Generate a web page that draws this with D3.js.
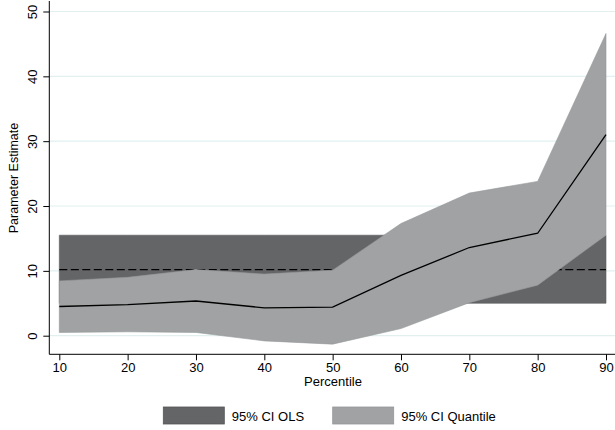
<!DOCTYPE html>
<html><head><meta charset="utf-8">
<script src="https://cdn.jsdelivr.net/npm/d3@7"></script>
<style>body{margin:0;background:#fff}svg{display:block;font-family:"Liberation Sans",Arial,sans-serif}</style>
</head><body><svg id="c" width="615" height="430"></svg>
<script>
const percentiles = [10,20,30,40,50,60,70,80,90];
const qEstimate = [4.5,4.8,5.35,4.3,4.4,9.3,13.6,15.8,31.0];
const qUpper = [8.45,9.0,10.2,9.5,10.1,17.3,22.0,23.8,46.6];
const qLower = [0.5,0.6,0.5,-0.8,-1.3,1.1,5.1,7.8,15.5];
const olsEstimate = 10.2, olsLower = 5.0, olsUpper = 15.5;
const yTicks = [0,10,20,30,40,50];
const xTicks = [10,20,30,40,50,60,70,80,90];
const legendLabels = ["95% CI OLS","95% CI Quantile"];

const svg = d3.select("#c");
const x = d3.scaleLinear().domain([10,90]).range([59.3,606]);
const y = d3.scaleLinear().domain([0,50]).range([335.7,11.5]);
const cOLS = "#646567", cQ = "#a0a2a3";

// gridlines
svg.append("g").selectAll("line").data(yTicks).join("line")
  .attr("x1",49.3).attr("x2",615).attr("y1",d=>y(d)).attr("y2",d=>y(d))
  .attr("stroke","#e1efef").attr("stroke-width",1.2);

// OLS CI rect
const olsData = percentiles.map(p=>({p}));
svg.append("path").datum(olsData)
  .attr("d", d3.area().x(d=>x(d.p)).y0(y(olsLower)).y1(y(olsUpper)))
  .attr("fill",cOLS).attr("stroke","#5a5b5d").attr("stroke-width",0.6);
// OLS estimate dashed
svg.append("path").datum(olsData)
  .attr("d", d3.line().x(d=>x(d.p)).y(y(olsEstimate)))
  .attr("fill","none").attr("stroke","#000").attr("stroke-width",1.3).attr("stroke-dasharray","8,3.5");

// Quantile CI
const qData = percentiles.map((p,i)=>({p,lo:qLower[i],hi:qUpper[i],e:qEstimate[i]}));
svg.append("path").datum(qData)
  .attr("d", d3.area().x(d=>x(d.p)).y0(d=>y(d.lo)).y1(d=>y(d.hi)))
  .attr("fill",cQ).attr("stroke","#96989a").attr("stroke-width",0.6);
svg.append("path").datum(qData)
  .attr("d", d3.line().x(d=>x(d.p)).y(d=>y(d.e)))
  .attr("fill","none").attr("stroke","#000").attr("stroke-width",1.3);

// axes
const gy = svg.append("g").attr("transform","translate(49.3,0)")
  .call(d3.axisLeft(y).tickValues(yTicks).tickSize(6).tickSizeOuter(0));
gy.select(".domain").remove();
gy.append("line").attr("x1",0).attr("x2",0).attr("y1",1).attr("y2",354.3).attr("stroke","#000");
gy.selectAll(".tick line").attr("stroke","#000");
gy.selectAll(".tick text").attr("font-size",13).attr("fill","#000").attr("font-family","Liberation Sans, Arial, sans-serif")
  .attr("transform",d=>`rotate(-90,-16,0)`).attr("x",-16).attr("dy","0.32em").attr("text-anchor","middle")
  .attr("y",0);

const gx = svg.append("g").attr("transform","translate(0,354.3)")
  .call(d3.axisBottom(x).tickValues(xTicks).tickSize(6).tickSizeOuter(0));
gx.select(".domain").remove();
gx.append("line").attr("x1",49.3).attr("x2",615).attr("y1",0).attr("y2",0).attr("stroke","#000");
gx.selectAll(".tick line").attr("stroke","#000");
gx.selectAll(".tick text").attr("font-size",13).attr("fill","#000").attr("font-family","Liberation Sans, Arial, sans-serif").attr("y",8).attr("dy","0.71em");

// axis titles
svg.append("text").attr("x",333).attr("y",386).attr("text-anchor","middle").attr("font-size",13).text("Percentile");
svg.append("text").attr("transform","translate(18,178) rotate(-90)").attr("text-anchor","middle").attr("font-size",12.5).text("Parameter Estimate");

// legend
const lg = svg.append("g");
const lx = [163.3, 332.7];
const cols = [cOLS, cQ];
legendLabels.forEach((t,i)=>{
  lg.append("rect").attr("x",lx[i]).attr("y",407).attr("width",61).attr("height",17)
    .attr("fill",cols[i]).attr("stroke",i===0?"#555658":"#959799").attr("stroke-width",0.8);
  lg.append("text").attr("x",lx[i]+68.5).attr("y",420.5).attr("font-size",13).text(t);
});
</script></body></html>
